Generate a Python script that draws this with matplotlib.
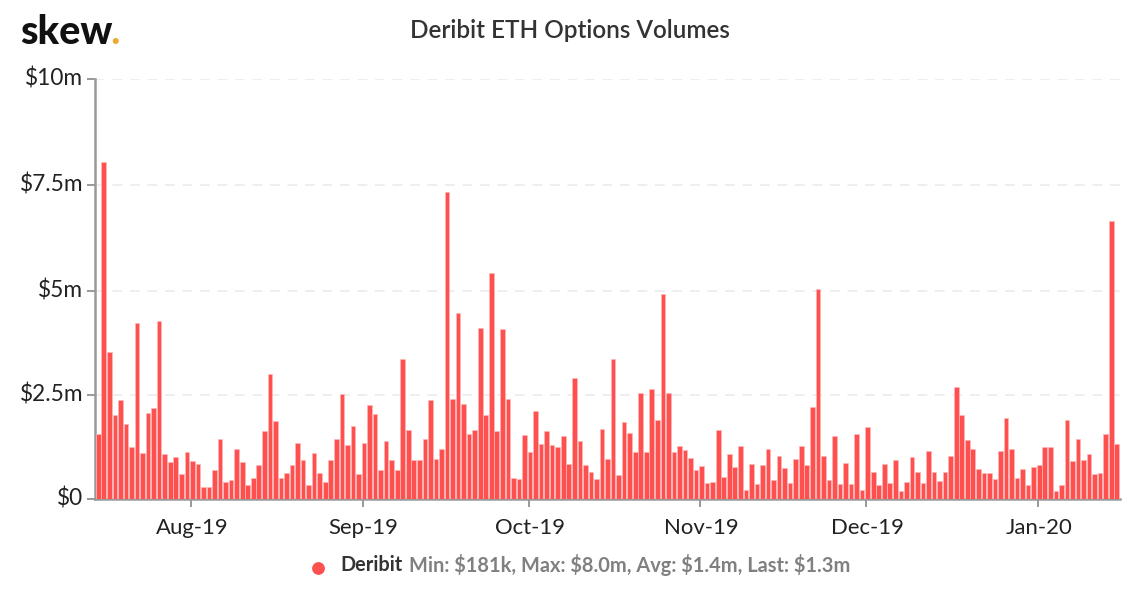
import matplotlib
matplotlib.use("Agg")
import matplotlib.pyplot as plt
import matplotlib.dates as mdates
from matplotlib.transforms import ScaledTranslation
import numpy as np
import pandas as pd

plt.rcParams['font.family'] = ['Lato', 'DejaVu Sans']

# daily volumes in $m
volumes = [
    1.54, 8.03, 3.49, 2.01, 2.35, 1.79, 1.25, 4.18, 1.10, 2.05, 2.17, 4.25,
    1.08, 0.88, 0.99, 0.60, 1.13, 0.91, 0.84, 0.29, 0.29, 0.70, 1.43, 0.40,
    0.46, 1.19, 0.87, 0.33, 0.51, 0.82, 1.62, 2.97, 1.85, 0.49, 0.61, 0.81,
    1.34, 0.93, 0.33, 1.10, 0.61, 0.41, 0.94, 1.42, 2.51, 1.28, 1.73, 0.59,
    1.34, 2.23, 2.03, 0.69, 1.38, 0.93, 0.68, 3.34, 1.65, 0.92, 0.92, 1.42,
    2.35, 0.96, 1.20, 7.32, 2.38, 4.42, 2.27, 1.54, 1.65, 4.07, 2.00, 5.39,
    1.61, 4.05, 2.38, 0.50, 0.48, 1.52, 1.11, 2.09, 1.32, 1.62, 1.28, 1.24,
    1.50, 0.84, 2.89, 1.38, 0.80, 0.64, 0.48, 1.66, 0.95, 3.33, 0.58, 1.84,
    1.58, 1.12, 2.53, 1.11, 2.63, 1.89, 4.89, 2.53, 1.11, 1.26, 1.16, 0.97,
    0.70, 0.79, 0.38, 0.41, 1.65, 0.53, 1.08, 0.77, 1.27, 0.21, 0.83, 0.36,
    0.81, 1.20, 0.45, 1.03, 0.73, 0.37, 0.95, 1.26, 0.80, 2.20, 5.00, 1.03,
    0.46, 1.50, 0.35, 0.86, 0.36, 1.55, 0.21, 1.72, 0.64, 0.34, 0.84, 0.37,
    0.93, 0.18, 0.40, 0.99, 0.64, 0.37, 1.14, 0.64, 0.44, 0.65, 1.03, 2.67,
    1.99, 1.40, 1.19, 0.71, 0.62, 0.62, 0.47, 1.15, 1.93, 1.19, 0.49, 0.72,
    0.33, 0.76, 0.80, 1.23, 1.25, 0.19, 0.34, 1.89, 0.91, 1.42, 0.93, 1.07,
    0.60, 0.63, 1.54, 6.63, 1.31,
]
first_day = "2019-07-15"
# tick heights as they sit in the original, slightly off the round values
y_ticks = [0, 2.48, 4.96, 7.48, 10]
y_labels = ["\\$0", "\\$2.5m", "\\$5m", "\\$7.5m", "\\$10m"]
x_ticks = ["2019-08-01", "2019-09-01", "2019-10-01", "2019-11-01", "2019-12-01", "2020-01-01"]
x_labels = ["Aug-19", "Sep-19", "Oct-19", "Nov-19", "Dec-19", "Jan-20"]

days = pd.date_range(first_day, periods=len(volumes), freq="D")

W, H = 1140, 600
fig = plt.figure(figsize=(W / 100, H / 100), dpi=100)
# axes box in pixels: left 95, right 1120, bottom 499, top 79
ax = fig.add_axes([95 / W, (H - 499) / H, (1120 - 95) / W, (499 - 79) / H])

# bars sit a little right of the date ticks in the original
x = mdates.date2num(days) + 0.25
ax.bar(x, volumes, width=0.84, color="#ff5050", edgecolor="#ffb8b8", linewidth=0.5, zorder=3)

x0 = mdates.date2num(pd.Timestamp("2019-08-01"))
ax.set_xlim(x0 + (95 - 191) / 5.535, x0 + (1120 - 191) / 5.535)
ax.set_ylim(0, 10)

ax.set_yticks(y_ticks)
ax.set_yticklabels(y_labels)
ax.set_xticks(mdates.date2num(pd.to_datetime(x_ticks)))
ax.set_xticklabels(x_labels)
ax.tick_params(axis="y", length=5.5, width=1.4, color="#999999", labelsize=16.3, labelcolor="#222222", pad=3)
ax.tick_params(axis="x", length=5.5, width=1.4, color="#999999", labelsize=15.9, labelcolor="#222222", pad=8)

# y labels sit 2px above their ticks
shift_up = ScaledTranslation(0, 2 / 100, fig.dpi_scale_trans)
for label in ax.get_yticklabels():
    label.set_transform(label.get_transform() + shift_up)

# x labels sit 1px right of their ticks
shift_right = ScaledTranslation(1 / 100, 0, fig.dpi_scale_trans)
for label in ax.get_xticklabels():
    label.set_transform(label.get_transform() + shift_right)

ax.grid(axis="y", color="#eeeeee", linewidth=1.4, linestyle=(0, (5, 4)), zorder=0)
ax.set_axisbelow(True)
for side in ["top", "right"]:
    ax.spines[side].set_visible(False)
for side in ["left", "bottom"]:
    ax.spines[side].set_color("#999999")
    ax.spines[side].set_linewidth(1.8)

# title and logo
fig.text(570 / W, 1 - 30 / H, "Deribit ETH Options Volumes", ha="center", va="center",
         fontsize=17.5, fontweight=600, color="#333333")
fig.text(20 / W, 1 - 44 / H, "skew", ha="left", va="baseline",
         fontsize=28.5, fontweight="black", color="#111111")
fig.text(110.5 / W, 1 - 44 / H, ".", ha="left", va="baseline",
         fontsize=28.5, fontweight="bold", color="#e8a92f")

# legend
ax_legend = fig.add_axes([0, 0, 1, 1], facecolor="none")
ax_legend.set_xlim(0, W)
ax_legend.set_ylim(H, 0)
ax_legend.axis("off")
ax_legend.scatter([318], [567.5], s=85, color="#ff5050", linewidths=0)
fig.text(340.5 / W, 1 - 565 / H, "Deribit", ha="left", va="center",
         fontsize=14.3, fontweight="bold", color="#333333")
fig.text(409 / W, 1 - 565 / H, "Min: \\$181k, Max: \\$8.0m, Avg: \\$1.4m, Last: \\$1.3m", ha="left", va="center",
         fontsize=14.4, fontweight="bold", color="#808080")

fig.savefig("out.png", dpi=100)
